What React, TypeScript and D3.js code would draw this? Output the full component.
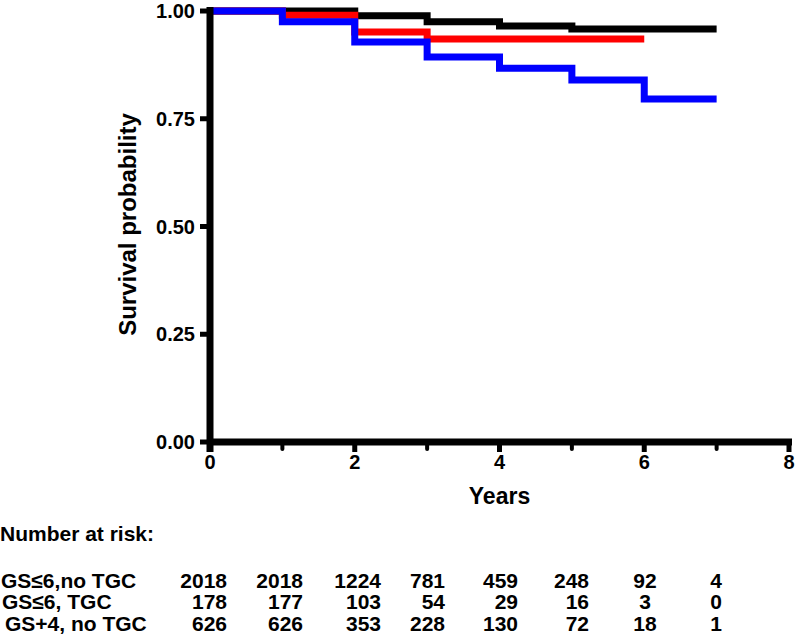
import React from "react";
import * as d3 from "d3";

// ---- Data ----
const blackTimes = [0, 2, 3, 4, 5, 7];
const blackSurv = [1.0, 0.989, 0.975, 0.965, 0.958, 0.958];
const redTimes = [0, 1, 2, 3, 6];
const redSurv = [1.0, 0.99, 0.951, 0.935, 0.935];
const blueTimes = [0, 1, 2, 3, 4, 5, 6, 7];
const blueSurv = [1.0, 0.975, 0.928, 0.893, 0.867, 0.84, 0.796, 0.796];

const yTicks = [0, 0.25, 0.5, 0.75, 1.0];
const xMajorTicks = [0, 2, 4, 6, 8];
const xMinorTicks = [1, 3, 5, 7];

const groupLabels = ["GS\u22646,no TGC", "GS\u22646, TGC", "GS+4, no TGC"];
const riskRow1 = [2018, 2018, 1224, 781, 459, 248, 92, 4];
const riskRow2 = [178, 177, 103, 54, 29, 16, 3, 0];
const riskRow3 = [626, 626, 353, 228, 130, 72, 18, 1];

const colors = ["#000000", "#ff0000", "#0000ff"];

export default function App() {
  const W = 800, H = 637;
  const x = d3.scaleLinear().domain([0, 8]).range([210, 789]);
  const y = d3.scaleLinear().domain([0, 1]).range([442, 11]);

  const line = d3
    .line<[number, number]>()
    .x((d) => x(d[0]))
    .y((d) => y(d[1]))
    .curve(d3.curveStepAfter);

  const series = [
    { t: blackTimes, s: blackSurv, c: colors[0] },
    { t: redTimes, s: redSurv, c: colors[1] },
    { t: blueTimes, s: blueSurv, c: colors[2] },
  ];

  const font = "'Liberation Sans', Arial, Helvetica, sans-serif";
  const rows = [riskRow1, riskRow2, riskRow3];
  const colRight = [227, 303, 381, 445, 518, 589];
  const colCenter = [645, 716];
  const rowY = [588, 609, 631];
  const labelX = [1, 2, 5];
  const tableFont = 21;

  return (
    <svg
      width={W}
      height={H}
      style={{ position: "absolute", left: 0, top: 0, background: "#fff" }}
      fontFamily={font}
      fontWeight="bold"
    >
      <rect width={W} height={H} fill="#fff" />
      {/* curves */}
      {series.map((sr, i) => (
        <path
          key={i}
          d={line(sr.t.map((t, j) => [t, sr.s[j]] as [number, number])) || ""}
          fill="none"
          stroke={sr.c}
          strokeWidth={7}
          strokeLinejoin="miter"
          strokeLinecap="butt"
        />
      ))}
      {/* y axis */}
      <line x1={x(0)} x2={x(0)} y1={y(1) - 4} y2={y(0) + 10} stroke="#000" strokeWidth={7} />
      {yTicks.map((v) => (
        <g key={v}>
          <line x1={x(0) - 10} x2={x(0)} y1={y(v)} y2={y(v)} stroke="#000" strokeWidth={5} />
          <text x={195} y={y(v) + 7} textAnchor="end" fontSize={20}>
            {v.toFixed(2)}
          </text>
        </g>
      ))}
      {/* x axis */}
      <line x1={x(0) - 3} x2={x(8) + 3} y1={y(0)} y2={y(0)} stroke="#000" strokeWidth={7} />
      {xMajorTicks.map((v) => (
        <g key={v}>
          <line x1={x(v)} x2={x(v)} y1={y(0)} y2={y(0) + 10} stroke="#000" strokeWidth={5} />
          <text x={x(v)} y={y(0) + 27} textAnchor="middle" fontSize={20}>
            {v}
          </text>
        </g>
      ))}
      {xMinorTicks.map((v) => (
        <line key={v} x1={x(v)} x2={x(v)} y1={y(0)} y2={y(0) + 7} stroke="#000" strokeWidth={4} strokeLinecap="round" />
      ))}
      {/* axis titles */}
      <text x={x(4)} y={504} textAnchor="middle" fontSize={23}>
        Years
      </text>
      <text transform={`translate(136, ${y(0.5) - 2}) rotate(-90)`} textAnchor="middle" fontSize={24}>
        Survival probability
      </text>
      {/* number at risk table */}
      <text x={0} y={541} fontSize={tableFont}>
        Number at risk:
      </text>
      {rows.map((r, ri) => (
        <g key={ri} fontSize={tableFont}>
          <text x={labelX[ri]} y={rowY[ri]}>
            {groupLabels[ri]}
          </text>
          {r.map((n, ci) =>
            ci < colRight.length ? (
              <text key={ci} x={colRight[ci]} y={rowY[ri]} textAnchor="end">
                {n}
              </text>
            ) : (
              <text key={ci} x={colCenter[ci - colRight.length]} y={rowY[ri]} textAnchor="middle">
                {n}
              </text>
            )
          )}
        </g>
      ))}
    </svg>
  );
}
